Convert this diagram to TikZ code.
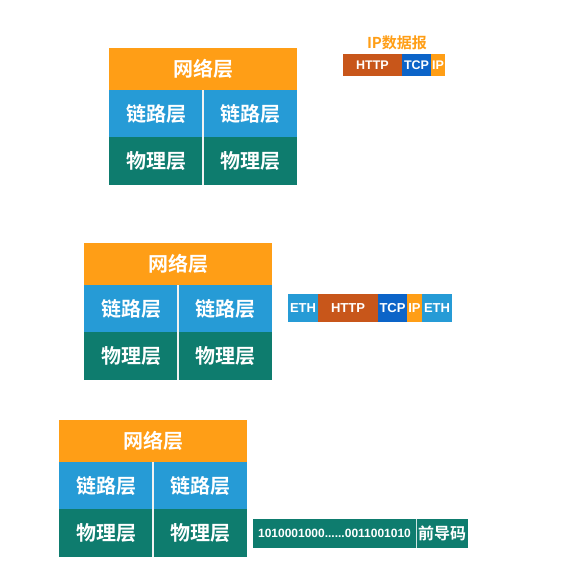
\documentclass[tikz,border=0pt]{standalone}
\usepackage{fontspec}
\setmainfont{Liberation Sans}
\newfontfamily\cjk{Noto Sans CJK SC}[BoldFont={Noto Sans CJK SC Bold}]
\definecolor{netorange}{RGB}{255,158,22}
\definecolor{linkblue}{RGB}{38,155,214}
\definecolor{phyteal}{RGB}{14,124,110}
\definecolor{httpbrown}{RGB}{200,86,26}
\definecolor{tcpblue}{RGB}{12,100,200}
\tikzset{
  cell/.style={anchor=north west, inner sep=0pt, outer sep=0pt,
    text=white, font=\cjk\bfseries\fontsize{20}{20}\selectfont},
  seg/.style={anchor=north west, inner sep=0pt, outer sep=0pt,
    text=white, font=\bfseries\fontsize{12.5}{12.5}\selectfont},
}

\begin{document}
\begin{tikzpicture}[x=1pt,y=-1pt]
  \useasboundingbox (0,0) rectangle (575,566);
  % three stacks
  \foreach \s/\x/\y in {a/109/48, b/84/243, c/59/420} {
    \node [cell, fill=netorange, minimum width=188pt, minimum height=42pt]
      (\s-net) at (\x,\y) {网络层};
    \node [cell, fill=linkblue, minimum width=94pt, minimum height=47pt]
      (\s-link1) at (\s-net.south west) {链路层};
    \node [cell, fill=linkblue, minimum width=94pt, minimum height=47pt]
      (\s-link2) at (\s-link1.north east) {链路层};
    \node [cell, fill=phyteal, minimum width=94pt, minimum height=48pt]
      (\s-phy1) at (\s-link1.south west) {物理层};
    \node [cell, fill=phyteal, minimum width=94pt, minimum height=48pt]
      (\s-phy2) at (\s-phy1.north east) {物理层};
    \draw [white!90!gray, line width=1.5pt] (\s-link1.north east) -- (\s-phy1.south east);
  }

  % IP datagram
  \node [text=netorange, font=\cjk\bfseries\fontsize{15}{15}\selectfont,
    inner sep=0pt] (iplabel) at (397,43) {IP数据报};
  \node [seg, fill=httpbrown, minimum width=59pt, minimum height=22pt]
    (ip-http) at (343,54) {HTTP};
  \node [seg, fill=tcpblue, minimum width=29pt, minimum height=22pt]
    (ip-tcp) at (ip-http.north east) {TCP};
  \node [seg, fill=netorange, minimum width=14pt, minimum height=22pt]
    (ip-ip) at (ip-tcp.north east) {IP};

  % frame
  \node [seg, fill=linkblue, minimum width=30pt, minimum height=28pt,
    font=\bfseries\fontsize{13}{13}\selectfont] (fr-eth1) at (288,294) {ETH};
  \node [seg, fill=httpbrown, minimum width=60pt, minimum height=28pt,
    font=\bfseries\fontsize{13}{13}\selectfont] (fr-http) at (fr-eth1.north east) {HTTP};
  \node [seg, fill=tcpblue, minimum width=29pt, minimum height=28pt,
    font=\bfseries\fontsize{13}{13}\selectfont] (fr-tcp) at (fr-http.north east) {TCP};
  \node [seg, fill=netorange, minimum width=15pt, minimum height=28pt,
    font=\bfseries\fontsize{13}{13}\selectfont] (fr-ip) at (fr-tcp.north east) {IP};
  \node [seg, fill=linkblue, minimum width=30pt, minimum height=28pt,
    font=\bfseries\fontsize{13}{13}\selectfont] (fr-eth2) at (fr-ip.north east) {ETH};

  % bits
  \node [seg, fill=phyteal, minimum width=163pt, minimum height=29pt,
    font=\bfseries\fontsize{12}{12}\selectfont] (bits) at (253,519)
    {1010001000......0011001010};
  \node [cell, fill=phyteal, minimum width=52pt, minimum height=29pt,
    font=\cjk\bfseries\fontsize{16}{16}\selectfont] (preamble) at (bits.north east) {前导码};
  \draw [white!80!phyteal, line width=0.6pt] (bits.north east) -- (bits.south east);
\end{tikzpicture}
\end{document}
